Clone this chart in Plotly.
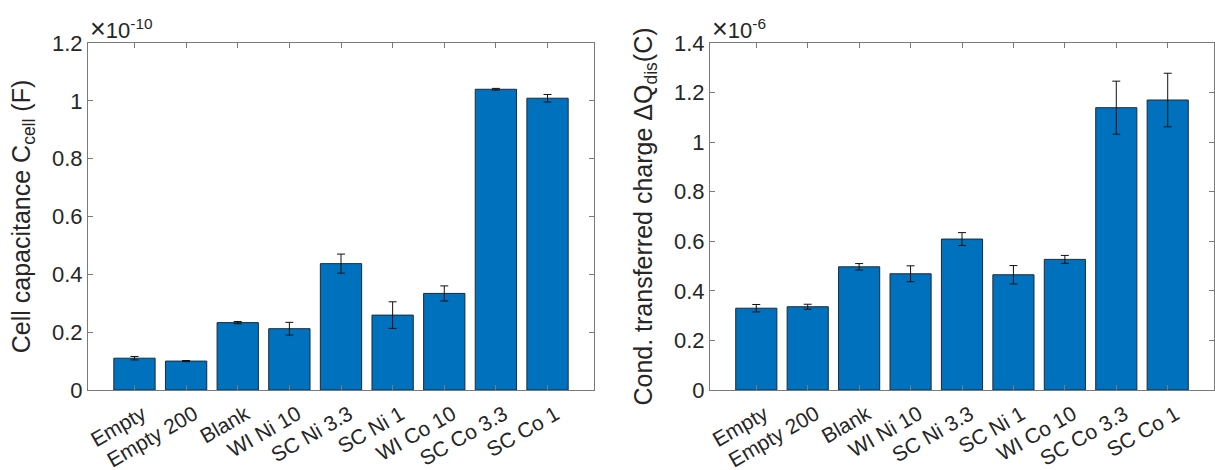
import plotly.graph_objects as go

categories = ["Empty", "Empty 200", "Blank", "WI Ni 10", "SC Ni 3.3",
              "SC Ni 1", "WI Co 10", "SC Co 3.3", "SC Co 1"]

# Cell capacitance C_cell (F), mean and spread
c_cell = [0.110e-10, 0.100e-10, 0.233e-10, 0.212e-10, 0.437e-10,
          0.259e-10, 0.334e-10, 1.040e-10, 1.009e-10]
c_cell_err = [0.006e-10, 0.002e-10, 0.004e-10, 0.022e-10, 0.033e-10,
              0.046e-10, 0.026e-10, 0.003e-10, 0.013e-10]

# Conduction transferred charge dQ_dis (C), mean and spread
dq_dis = [0.330e-6, 0.336e-6, 0.497e-6, 0.469e-6, 0.609e-6,
          0.465e-6, 0.527e-6, 1.139e-6, 1.170e-6]
dq_dis_err = [0.015e-6, 0.010e-6, 0.013e-6, 0.032e-6, 0.026e-6,
              0.037e-6, 0.016e-6, 0.107e-6, 0.108e-6]

# tick labels (in units of the axis exponent)
c_tick_labels = ["0", "0.2", "0.4", "0.6", "0.8", "1", "1.2"]
q_tick_labels = ["0", "0.2", "0.4", "0.6", "0.8", "1", "1.2", "1.4"]
c_scale = 1e-10
q_scale = 1e-6

BAR_COLOR = "#0072BD"
TEXT = "#262626"
AXIS = "#7a7a7a"
FONT = "Liberation Sans, Arial, Helvetica, sans-serif"

W, H = 1215, 470
left_dom = [88 / W, 594 / W]
right_dom = [710 / W, 1214 / W]
y_dom = [1 - 390 / H, 1 - 43 / H]

fig = go.Figure()

def bar_trace(values, errors, xa, ya):
    return go.Bar(
        x=categories, y=values, width=0.8,
        marker=dict(color=BAR_COLOR, line=dict(color="#1b2a3a", width=1)),
        error_y=dict(type="data", array=errors, visible=True,
                     color="#111111", thickness=1, width=4),
        xaxis=xa, yaxis=ya, showlegend=False,
    )

fig.add_trace(bar_trace(c_cell, c_cell_err, "x", "y"))
fig.add_trace(bar_trace(dq_dis, dq_dis_err, "x2", "y2"))

common_x = dict(
    type="category", categoryorder="array", categoryarray=categories,
    range=[-0.9, 8.9], tickangle=-30, ticks="inside", ticklen=5,
    tickcolor=AXIS, showline=True, linecolor=AXIS, linewidth=1,
    mirror="ticks", showgrid=False, zeroline=False, automargin=False,
    ticklabelshift=8, ticklabelstandoff=3,
    tickfont=dict(family=FONT, size=21, color=TEXT),
)
common_y = dict(
    ticks="inside", ticklen=5, tickcolor=AXIS, showline=True,
    linecolor=AXIS, linewidth=1, mirror="ticks", showgrid=False,
    zeroline=False, automargin=False,
    tickfont=dict(family=FONT, size=22, color=TEXT),
    title_font=dict(family=FONT, size=25, color=TEXT), title_standoff=14,
)

def exponent_label(power, x0):
    return dict(
        text=f"<span style='font-size:27px'>\u00d7</span>10<sup>{power}</sup>",
        xref="paper", yref="paper", x=x0, y=y_dom[1],
        xanchor="left", yanchor="bottom", showarrow=False,
        xshift=0, yshift=-3, font=dict(family=FONT, size=22, color=TEXT),
    )

fig.update_layout(
    width=W, height=H, margin=dict(l=0, r=0, t=0, b=0),
    paper_bgcolor="white", plot_bgcolor="white", bargap=0.2,
    xaxis=dict(domain=left_dom, anchor="y", **common_x),
    xaxis2=dict(domain=right_dom, anchor="y2", **common_x),
    yaxis=dict(
        domain=y_dom, anchor="x", range=[0, 1.2 * c_scale],
        tickvals=[i * 0.2 * c_scale for i in range(len(c_tick_labels))],
        ticktext=c_tick_labels,
        title_text="Cell capacitance C<sub>cell</sub> (F)", **common_y,
    ),
    yaxis2=dict(
        domain=y_dom, anchor="x2", range=[0, 1.4 * q_scale],
        tickvals=[i * 0.2 * q_scale for i in range(len(q_tick_labels))],
        ticktext=q_tick_labels,
        title_text="Cond. transferred charge \u0394Q<sub>dis</sub>(C)", **common_y,
    ),
    annotations=[exponent_label(-10, left_dom[0]),
                 exponent_label(-6, right_dom[0])],
)

fig.write_html("out.html")
